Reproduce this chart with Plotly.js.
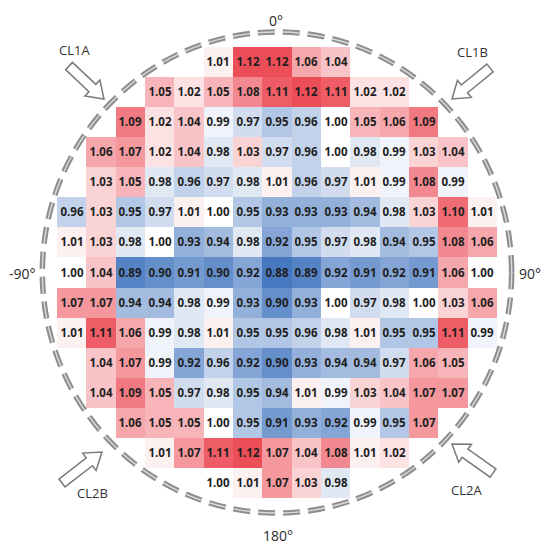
<!DOCTYPE html>
<html>
<head>
<meta charset="utf-8">
<script src="https://cdn.plot.ly/plotly-3.0.1.min.js"></script>
<style>html,body{margin:0;padding:0;background:#fff;}#chart{width:550px;height:553px;}</style>
</head>
<body>
<div id="chart"></div>
<script>
// ---- data (rows top to bottom, columns left to right; null = no die) ----
const colIndex = [0,1,2,3,4,5,6,7,8,9,10,11,12,13,14];
const rowIndex = [0,1,2,3,4,5,6,7,8,9,10,11,12,13,14];
const r01 = [null,null,null,null,null,1.01,1.12,1.12,1.06,1.04,null,null,null,null,null];
const r02 = [null,null,null,1.05,1.02,1.05,1.08,1.11,1.12,1.11,1.02,1.02,null,null,null];
const r03 = [null,null,1.09,1.02,1.04,0.99,0.97,0.95,0.96,1.00,1.05,1.06,1.09,null,null];
const r04 = [null,1.06,1.07,1.02,1.04,0.98,1.03,0.97,0.96,1.00,0.98,0.99,1.03,1.04,null];
const r05 = [null,1.03,1.05,0.98,0.96,0.97,0.98,1.01,0.96,0.97,1.01,0.99,1.08,0.99,null];
const r06 = [0.96,1.03,0.95,0.97,1.01,1.00,0.95,0.93,0.93,0.93,0.94,0.98,1.03,1.10,1.01];
const r07 = [1.01,1.03,0.98,1.00,0.93,0.94,0.98,0.92,0.95,0.97,0.98,0.94,0.95,1.08,1.06];
const r08 = [1.00,1.04,0.89,0.90,0.91,0.90,0.92,0.88,0.89,0.92,0.91,0.92,0.91,1.06,1.00];
const r09 = [1.07,1.07,0.94,0.94,0.98,0.99,0.93,0.90,0.93,1.00,0.97,0.98,1.00,1.03,1.06];
const r10 = [1.01,1.11,1.06,0.99,0.98,1.01,0.95,0.95,0.96,0.98,1.01,0.95,0.95,1.11,0.99];
const r11 = [null,1.04,1.07,0.99,0.92,0.96,0.92,0.90,0.93,0.94,0.94,0.97,1.06,1.05,null];
const r12 = [null,1.04,1.09,1.05,0.97,0.98,0.95,0.94,1.01,0.99,1.03,1.04,1.07,1.07,null];
const r13 = [null,null,1.06,1.05,1.05,1.00,0.95,0.91,0.93,0.92,0.99,0.95,1.07,null,null];
const r14 = [null,null,null,1.01,1.07,1.11,1.12,1.07,1.04,1.08,1.01,1.02,null,null,null];
const r15 = [null,null,null,null,null,1.00,1.01,1.07,1.03,0.98,null,null,null,null,null];
const angleLabels = ['0°','90°','180°','-90°'];
const zoneLabels = ['CL1A','CL1B','CL2A','CL2B'];

const zGrid = [r01,r02,r03,r04,r05,r06,r07,r08,r09,r10,r11,r12,r13,r14,r15];
const textGrid = zGrid.map(r => r.map(v => v === null ? '' : v.toFixed(2)));

// ---- layout helpers ----
const W = 550, H = 553;
const px = x => x / W;
const py = y => 1 - y / H;

function arrowPath(tx, ty, hx, hy) {
  const dx = hx - tx, dy = hy - ty;
  const L = Math.sqrt(dx*dx + dy*dy);
  const ux = dx / L, uy = dy / L;
  const nx = -uy, ny = ux;
  const sw = 5, hw = 11, hl = 16;
  const bx = hx - ux*hl, by = hy - uy*hl;
  const pts = [
    [tx + nx*sw, ty + ny*sw],
    [bx + nx*sw, by + ny*sw],
    [bx + nx*hw, by + ny*hw],
    [hx, hy],
    [bx - nx*hw, by - ny*hw],
    [bx - nx*sw, by - ny*sw],
    [tx - nx*sw, ty - ny*sw]
  ];
  return 'M' + pts.map(p => px(p[0]).toFixed(5) + ',' + py(p[1]).toFixed(5)).join(' L') + ' Z';
}

const arrows = [
  [69, 66, 104, 99],
  [490, 68, 452, 99],
  [493, 473, 452, 444],
  [62, 483, 102, 452]
];

const shapes = [];
// dashed wafer outline (double-line look)
shapes.push({type:'circle', xref:'x', yref:'y', x0:-1, x1:15, y0:-1, y1:15,
  line:{color:'#8e8e8e', width:5.5, dash:'17px,8px'}, layer:'above'});
shapes.push({type:'circle', xref:'x', yref:'y', x0:-1, x1:15, y0:-1, y1:15,
  line:{color:'#dadada', width:1.4, dash:'17px,8px'}, layer:'above'});
arrows.forEach(a => {
  shapes.push({type:'path', xref:'paper', yref:'paper', path: arrowPath(a[0],a[1],a[2],a[3]),
    fillcolor:'#ffffff', line:{color:'#7a7a7a', width:1.5}, layer:'above'});
});

const angleFont = {family:'Open Sans, sans-serif', size:14, color:'#2a2a2a'};
const zoneFont = {family:'Open Sans, sans-serif', size:13, color:'#333333'};
const annPos = {
  '0°':[276,21], '90°':[530,273], '180°':[278,535], '-90°':[22,273],
  'CL1A':[74,50], 'CL1B':[472,52], 'CL2A':[466,490], 'CL2B':[92,493]
};
const annotations = [];
angleLabels.forEach(t => annotations.push({text:t, xref:'paper', yref:'paper',
  x:px(annPos[t][0]), y:py(annPos[t][1]), showarrow:false, font:angleFont, xanchor:'center', yanchor:'middle'}));
zoneLabels.forEach(t => annotations.push({text:t, xref:'paper', yref:'paper',
  x:px(annPos[t][0]), y:py(annPos[t][1]), showarrow:false, font:zoneFont, xanchor:'center', yanchor:'middle'}));

const trace = {
  type:'heatmap',
  x: colIndex, y: rowIndex, z: zGrid,
  text: textGrid, texttemplate:'%{text}',
  textfont:{family:'Open Sans, sans-serif', size:11.5, color:'#1e1e1e', weight:700},
  zmin:0.88, zmax:1.12,
  colorscale:[[0,'rgb(70,120,192)'],[0.5,'rgb(255,255,255)'],[1,'rgb(236,78,88)']],
  showscale:false, hoverinfo:'skip', xgap:0, ygap:0
};

const layout = {
  width:W, height:H,
  margin:{l:0,r:0,t:0,b:0,pad:0},
  paper_bgcolor:'#ffffff', plot_bgcolor:'#ffffff',
  xaxis:{range:[-0.5 - 57/29.33, 14.5 + 53/29.33], visible:false, fixedrange:true},
  yaxis:{range:[14.5 + 55/30.07, -0.5 - 47/30.07], visible:false, fixedrange:true},
  shapes: shapes,
  annotations: annotations,
  showlegend:false
};

Plotly.newPlot('chart', [trace], layout, {displayModeBar:false, staticPlot:true});
</script>
</body>
</html>
